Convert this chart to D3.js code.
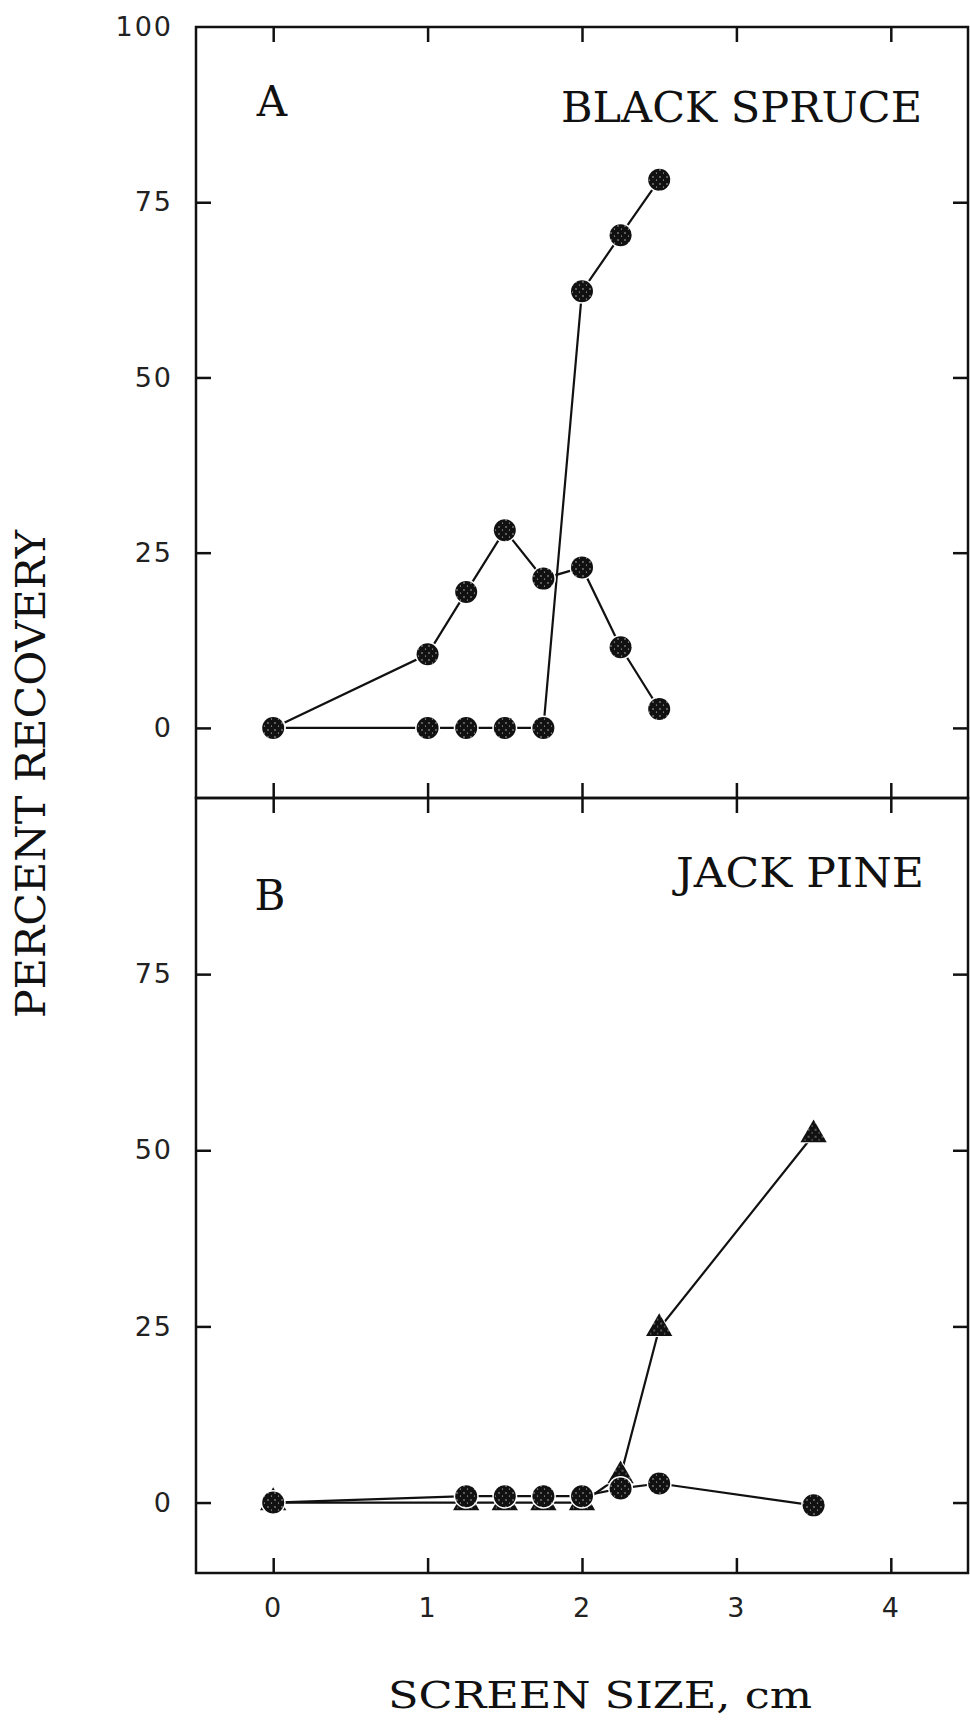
<!DOCTYPE html>
<meta charset="utf-8">
<head>
	<script src="https://cdn.jsdelivr.net/npm/d3@7"></script>
	<style>
		body { margin: 0; background: #fff; }
		.tick text { font-family: "DejaVu Sans", sans-serif; font-size: 27px; fill: #222; }
		.tick line { stroke: #111; stroke-width: 2.5; }
		.serif { font-family: "DejaVu Serif", serif; fill: #111; }
	</style>
</head>
<body>
	<svg id="svg"></svg>
</body>
<script>
	// panel A - black spruce
	var spruceSize = [0, 1, 1.25, 1.5, 1.75, 2, 2.25, 2.5];
	var spruceHigh = [0, 0, 0, 0, 0, 62.3, 70.3, 78.2];
	var spruceLow = [0, 10.5, 19.4, 28.2, 21.3, 22.9, 11.5, 2.7];

	// panel B - jack pine
	var pineSize = [0, 1.25, 1.5, 1.75, 2, 2.25, 2.5, 3.5];
	var pineTri = [0, 0, 0, 0, 0, 3.8, 24.7, 52.2];
	var pineCirc = [0, 0.9, 0.9, 0.9, 0.9, 2.0, 2.7, -0.4];

	var xTicks = [0, 1, 2, 3, 4];
	var yTicks = [0, 25, 50, 75];

	var width = 970, height = 1724;
	var left = 196, right = 968, topA = 27, mid = 798, bottom = 1573;

	var svg = d3.select("#svg")
		.attr("width", width)
		.attr("height", height);

	var defs = svg.append("defs");
	var pat = defs.append("pattern")
		.attr("id", "stipple")
		.attr("width", 7).attr("height", 7)
		.attr("patternUnits", "userSpaceOnUse");
	pat.append("rect").attr("width", 7).attr("height", 7).attr("fill", "#111");
	pat.append("circle").attr("cx", 2).attr("cy", 2).attr("r", 0.7).attr("fill", "#ddd");
	pat.append("circle").attr("cx", 5.5).attr("cy", 5).attr("r", 0.6).attr("fill", "#ddd");

	var x = d3.scaleLinear().domain([-0.5, 4.5]).range([left, right]);
	var yA = d3.scaleLinear().domain([-10, 100]).range([mid, topA]);
	var yB = d3.scaleLinear().domain([-10, 100]).range([bottom, mid]);

	function panel(y, y0, y1) {
		var g = svg.append("g");
		// left axis with labels
		var ax = g.append("g").attr("transform", "translate(" + left + ",0)")
			.call(d3.axisLeft(y).tickValues(yTicks).tickSize(-15).tickPadding(23));
		ax.select(".domain").remove();
		// right axis
		var ar = g.append("g").attr("transform", "translate(" + right + ",0)")
			.call(d3.axisRight(y).tickValues(yTicks).tickSize(-15).tickFormat(""));
		ar.select(".domain").remove();
		// top & bottom
		var at = g.append("g").attr("transform", "translate(0," + y1 + ")")
			.call(d3.axisTop(x).tickValues(xTicks).tickSize(-15).tickFormat(""));
		at.select(".domain").remove();
		var ab = g.append("g").attr("transform", "translate(0," + y0 + ")")
			.call(d3.axisBottom(x).tickValues(xTicks).tickSize(-15).tickFormat(""));
		ab.select(".domain").remove();
		g.append("rect")
			.attr("x", left).attr("y", y1)
			.attr("width", right - left).attr("height", y0 - y1)
			.attr("fill", "none").attr("stroke", "#111").attr("stroke-width", 2.5);
		return g;
	}

	panel(yA, mid, topA);
	panel(yB, bottom, mid);

	// 100 label on top of panel A
	var top100 = svg.append("g").attr("transform", "translate(" + left + ",0)")
		.call(d3.axisLeft(yA).tickValues([100]).tickSize(0).tickPadding(23));
	top100.select(".domain").remove();

	// x tick labels at the bottom
	var xl = svg.append("g").attr("transform", "translate(0," + bottom + ")")
		.call(d3.axisBottom(x).tickValues(xTicks).tickFormat(d3.format("d")).tickSize(0).tickPadding(25));
	xl.select(".domain").remove();

	svg.selectAll(".tick text").attr("letter-spacing", "2px");

	var line = function (y) {
		return d3.line().x(function (d) { return x(d[0]); }).y(function (d) { return y(d[1]); });
	};

	function series(xs, ys, y) {
		var pts = xs.map(function (v, i) { return [v, ys[i]]; });
		svg.append("path")
			.datum(pts)
			.attr("d", line(y))
			.attr("fill", "none")
			.attr("stroke", "#111")
			.attr("stroke-width", 2.2);
		return pts;
	}

	function circles(pts, y) {
		svg.append("g").selectAll("circle")
			.data(pts).enter().append("circle")
			.attr("cx", function (d) { return x(d[0]); })
			.attr("cy", function (d) { return y(d[1]); })
			.attr("r", 11)
			.attr("fill", "url(#stipple)")
			.attr("stroke", "#fff")
			.attr("stroke-width", 3)
			.attr("paint-order", "stroke");
	}

	function triangles(pts, y) {
		var sym = d3.symbol().type(d3.symbolTriangle).size(300);
		svg.append("g").selectAll("path")
			.data(pts).enter().append("path")
			.attr("d", sym)
			.attr("transform", function (d) { return "translate(" + x(d[0]) + "," + y(d[1]) + ")"; })
			.attr("fill", "url(#stipple)")
			.attr("stroke", "#fff")
			.attr("stroke-width", 2)
			.attr("paint-order", "stroke");
	}

	var a1 = series(spruceSize, spruceHigh, yA);
	var a2 = series(spruceSize, spruceLow, yA);
	circles(a1, yA);
	circles(a2, yA);

	var b1 = series(pineSize, pineTri, yB);
	var b2 = series(pineSize, pineCirc, yB);
	triangles(b1, yB);
	circles(b2, yB);

	// labels
	svg.append("text").attr("class", "serif")
		.attr("x", 272).attr("y", 116).attr("text-anchor", "middle")
		.style("font-size", "42px").text("A");
	svg.append("text").attr("class", "serif")
		.attr("x", 561).attr("y", 122)
		.attr("textLength", 361).attr("lengthAdjust", "spacingAndGlyphs")
		.style("font-size", "42px").text("BLACK SPRUCE");
	svg.append("text").attr("class", "serif")
		.attr("x", 270).attr("y", 910).attr("text-anchor", "middle")
		.style("font-size", "42px").text("B");
	svg.append("text").attr("class", "serif")
		.attr("x", 676).attr("y", 887)
		.attr("textLength", 248).attr("lengthAdjust", "spacingAndGlyphs")
		.style("font-size", "41px").text("JACK PINE");
	svg.append("text").attr("class", "serif")
		.attr("transform", "translate(45,1018) rotate(-90)")
		.attr("textLength", 488).attr("lengthAdjust", "spacingAndGlyphs")
		.style("font-size", "41px").text("PERCENT RECOVERY");
	svg.append("text").attr("class", "serif")
		.attr("x", 388).attr("y", 1708)
		.attr("textLength", 424).attr("lengthAdjust", "spacingAndGlyphs")
		.style("font-size", "37px").text("SCREEN SIZE, cm");
</script>
